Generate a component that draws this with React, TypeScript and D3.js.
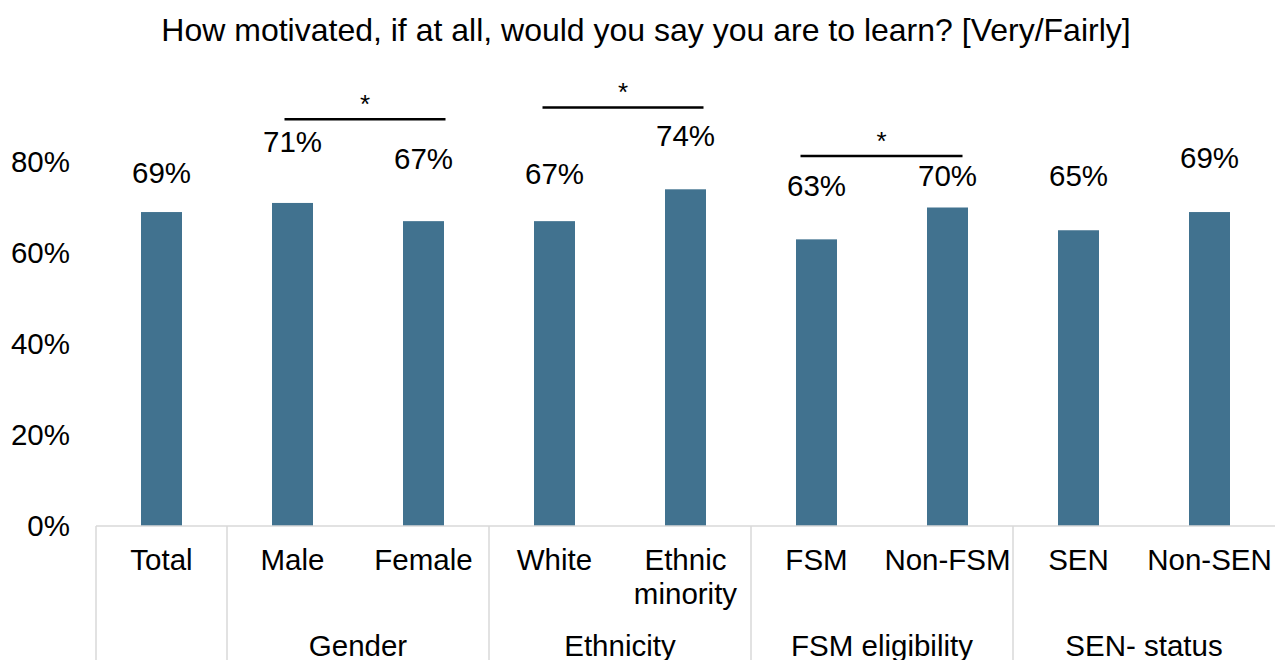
import React from "react";
import * as d3 from "d3";

const categories = ["Total", "Male", "Female", "White", "Ethnic minority", "FSM", "Non-FSM", "SEN", "Non-SEN"];
const categoryLines = [["Total"], ["Male"], ["Female"], ["White"], ["Ethnic", "minority"], ["FSM"], ["Non-FSM"], ["SEN"], ["Non-SEN"]];
const values = [0.69, 0.71, 0.67, 0.67, 0.74, 0.63, 0.70, 0.65, 0.69];
const groups = [
  { name: "", from: 0, to: 0 },
  { name: "Gender", from: 1, to: 2 },
  { name: "Ethnicity", from: 3, to: 4 },
  { name: "FSM eligibility", from: 5, to: 6 },
  { name: "SEN- status", from: 7, to: 8 },
];
const yTicks = [0, 0.2, 0.4, 0.6, 0.8];
// manual label placement (value units), as in the source chart
const labelAt = [0.776, 0.844, 0.807, 0.774, 0.857, 0.747, 0.769, 0.769, 0.809];
// significance markers: bars compared and height (value units)
const sigMarks = [
  { a: 1, b: 2, level: 0.894, dx1: -8, dx2: 22 },
  { a: 3, b: 4, level: 0.92, dx1: -12, dx2: 18 },
  { a: 5, b: 6, level: 0.813, dx1: -16, dx2: 15 },
];
const title = "How motivated, if at all, would you say you are to learn? [Very/Fairly]";

const W = 1275;
const H = 660;
const FONT = "'Liberation Sans', Arial, Helvetica, sans-serif";
const BAR = "#41728f";
const AXIS = "#d9d9d9";
const FS = 29.5;

export default function App() {
  const x = d3
    .scaleBand<number>()
    .domain(d3.range(categories.length))
    .range([96, 1275])
    .paddingInner(0.687)
    .paddingOuter(0.3435);
  const step = x.step();
  const y = d3.scaleLinear().domain([0, 0.8]).range([526, 162]);
  const fmt = d3.format(".0%");
  const cx = (i: number) => (x(i) as number) + x.bandwidth() / 2;
  const left = (i: number) => (x(i) as number) - (step - x.bandwidth()) / 2;

  return (
    <div style={{ position: "absolute", left: 0, top: 0 }}>
      <svg width={W} height={H} style={{ display: "block", fontFamily: FONT }}>
        <rect width={W} height={H} fill="#fff" />
        <text x={646} y={30} dy="0.35em" textAnchor="middle" fontSize={32} fill="#000">
          {title}
        </text>
        {yTicks.map((t) => (
          <text key={t} x={70} y={y(t)} dy="0.35em" textAnchor="end" fontSize={FS} fill="#000">
            {fmt(t)}
          </text>
        ))}
        {values.map((v, i) => (
          <rect key={i} x={x(i)} y={y(v)} width={x.bandwidth()} height={y(0) - y(v)} fill={BAR} />
        ))}
        {values.map((v, i) => (
          <text key={"l" + i} x={cx(i)} y={y(labelAt[i])} dy="0.35em" textAnchor="middle" fontSize={FS} fill="#000">
            {fmt(v)}
          </text>
        ))}
        {sigMarks.map((s, k) => {
          const x1 = cx(s.a) + s.dx1;
          const x2 = cx(s.b) + s.dx2;
          return (
            <g key={"s" + k}>
              <line x1={x1} x2={x2} y1={y(s.level)} y2={y(s.level)} stroke="#000" strokeWidth={2.5} />
              <text x={(x1 + x2) / 2} y={y(s.level) - 6} textAnchor="middle" fontSize={26} fill="#000">
                *
              </text>
            </g>
          );
        })}
        <line x1={96} x2={W} y1={y(0)} y2={y(0)} stroke={AXIS} strokeWidth={1.5} />
        {groups.map((g, k) => (
          <line key={"sep" + k} x1={left(g.from)} x2={left(g.from)} y1={y(0)} y2={H} stroke={AXIS} strokeWidth={1.5} />
        ))}
        {categoryLines.map((lines, i) => (
          <text key={"c" + i} x={cx(i)} y={560} textAnchor="middle" fontSize={FS} fill="#000">
            {lines.map((ln, j) => (
              <tspan key={j} x={cx(i)} dy={j === 0 ? "0.35em" : 34}>
                {ln}
              </tspan>
            ))}
          </text>
        ))}
        {groups.map((g, k) => (
          <text
            key={"g" + k}
            x={(left(g.from) + left(g.to) + step) / 2}
            y={646}
            dy="0.35em"
            textAnchor="middle"
            fontSize={FS}
            fill="#000"
          >
            {g.name}
          </text>
        ))}
      </svg>
    </div>
  );
}
